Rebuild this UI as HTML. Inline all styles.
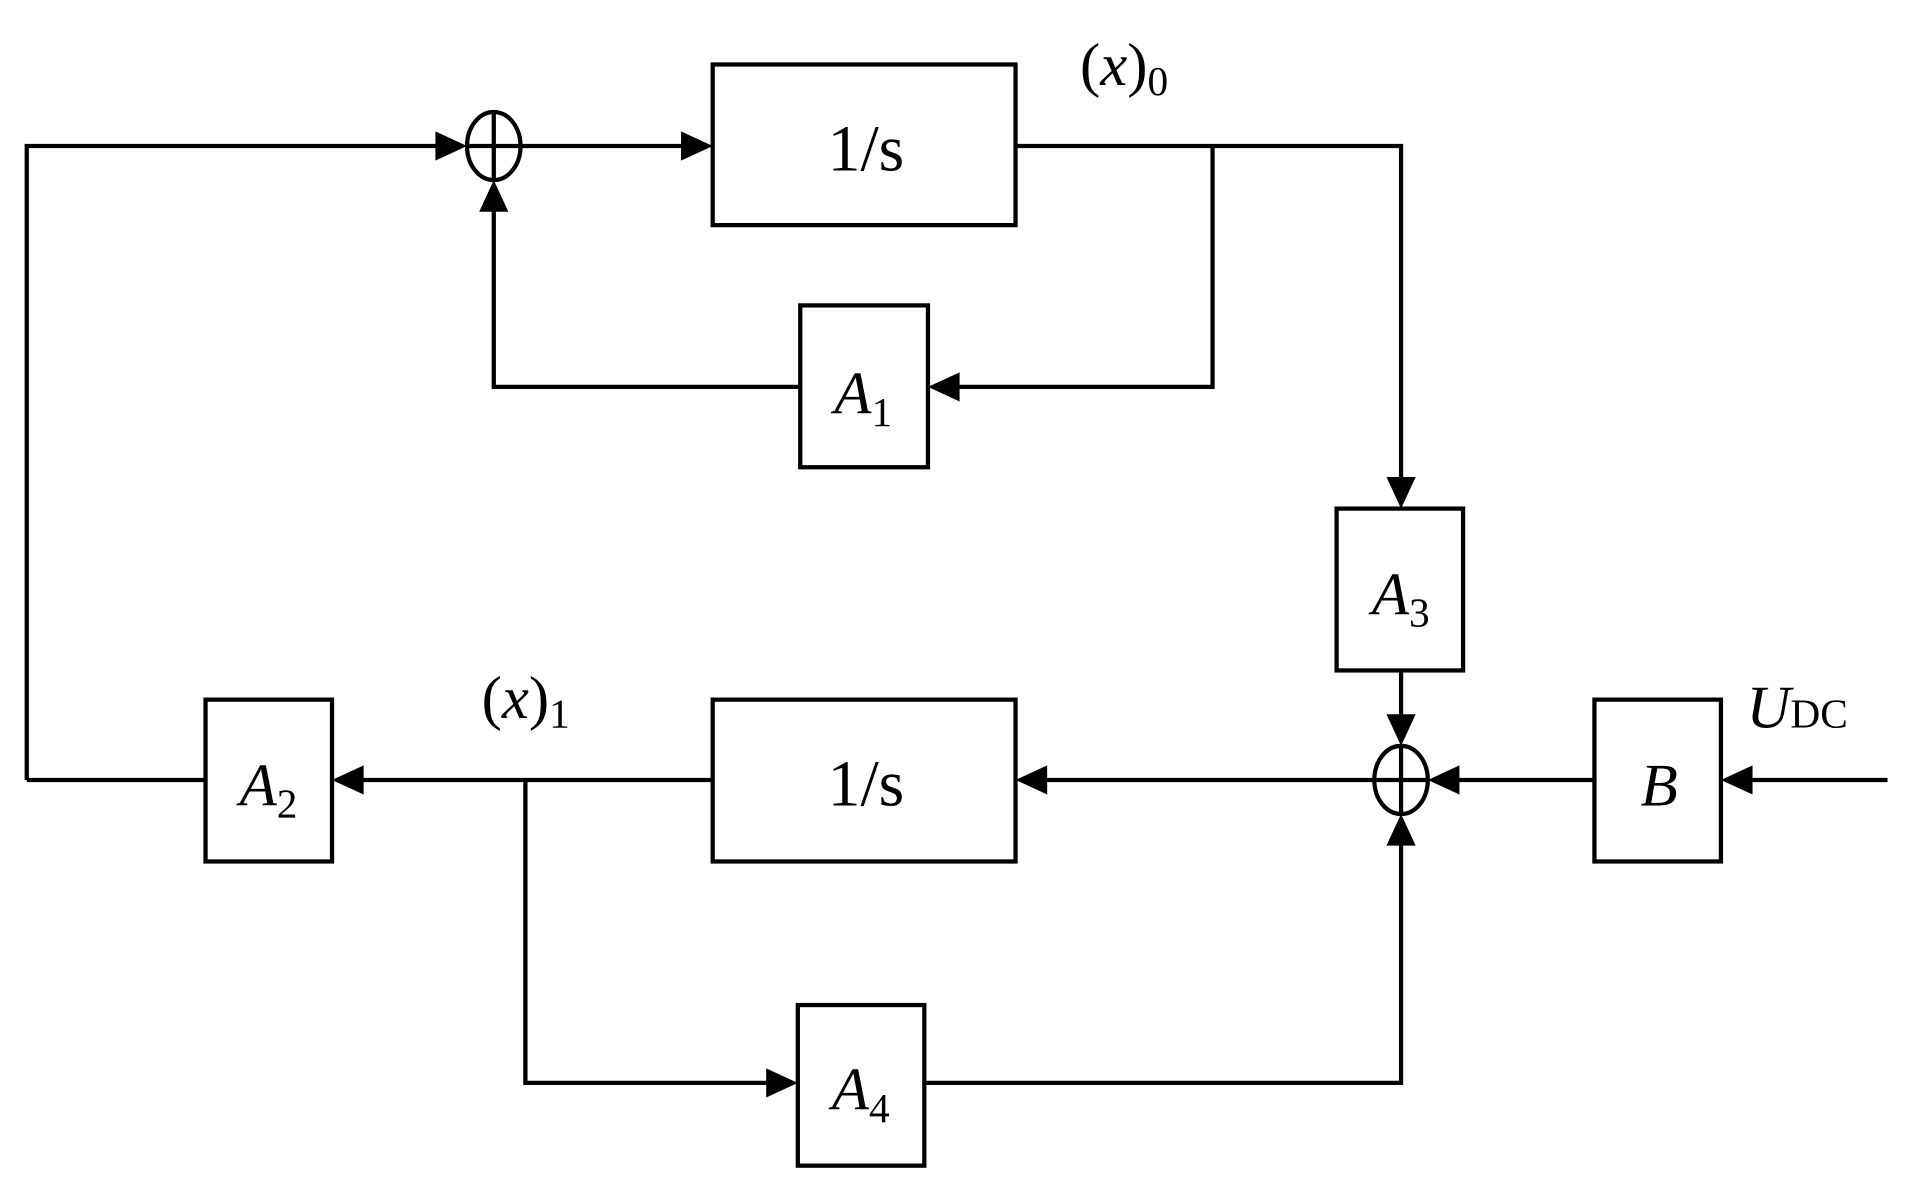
<!DOCTYPE html>
<html><head><meta charset="utf-8"><style>
html,body{margin:0;padding:0;background:#fff;}
svg{display:block;}
text{font-family:"Liberation Serif",serif;fill:#000;}
</style></head><body>
<svg width="1907" height="1190" viewBox="0 0 1568 978" preserveAspectRatio="none" xmlns="http://www.w3.org/2000/svg">
<g stroke="#000" stroke-width="3.5" fill="none">
<rect x="586" y="53" width="249" height="132"/>
<rect x="658" y="251" width="105" height="133"/>
<rect x="1099" y="418" width="104" height="133"/>
<rect x="169" y="575" width="104" height="133"/>
<rect x="586" y="575" width="249" height="133"/>
<rect x="656" y="826" width="104" height="132"/>
<rect x="1311" y="575" width="104" height="133"/>
<ellipse cx="406" cy="120" rx="22" ry="28"/>
<line x1="384" y1="120" x2="428" y2="120"/><line x1="406" y1="92" x2="406" y2="148"/>
<ellipse cx="1152" cy="641" rx="22" ry="28"/>
<line x1="1130" y1="641" x2="1174" y2="641"/><line x1="1152" y1="613" x2="1152" y2="669"/>
<polyline points="22,641 22,120 362,120"/>
<line x1="428" y1="120" x2="562" y2="120"/>
<polyline points="835,120 1152,120 1152,394"/>
<polyline points="997,120 997,318 787,318"/>
<polyline points="658,318 406,318 406,172"/>
<polyline points="22,641 169,641"/>
<line x1="1152" y1="551" x2="1152" y2="591"/>
<line x1="1130" y1="641" x2="859" y2="641"/>
<line x1="586" y1="641" x2="297" y2="641"/>
<polyline points="432,641 432,890 632,890"/>
<polyline points="760,890 1152,890 1152,693"/>
<line x1="1311" y1="641" x2="1198" y2="641"/>
<line x1="1552" y1="641" x2="1439" y2="641"/>
</g>
<g fill="#000">
<polygon points="384,120 358,108 358,132"/>
<polygon points="586,120 560,108 560,132"/>
<polygon points="1152,418 1140,392 1164,392"/>
<polygon points="763,318 789,306 789,330"/>
<polygon points="406,148 394,174 418,174"/>
<polygon points="1152,613 1140,587 1164,587"/>
<polygon points="835,641 861,629 861,653"/>
<polygon points="273,641 299,629 299,653"/>
<polygon points="656,890 630,878 630,902"/>
<polygon points="1152,669 1140,695 1164,695"/>
<polygon points="1174,641 1200,629 1200,653"/>
<polygon points="1415,641 1441,629 1441,653"/>
</g>
<text x="712" y="140" font-size="54" text-anchor="middle">1/s</text>
<text x="712" y="662" font-size="54" text-anchor="middle">1/s</text>
<g font-size="50">
<text x="686" y="340" font-style="italic">A<tspan font-style="normal" font-size="34" dy="10">1</tspan></text>
<text x="1128" y="505" font-style="italic">A<tspan font-style="normal" font-size="34" dy="10">3</tspan></text>
<text x="197" y="662" font-style="italic">A<tspan font-style="normal" font-size="34" dy="10">2</tspan></text>
<text x="684" y="912" font-style="italic">A<tspan font-style="normal" font-size="34" dy="10">4</tspan></text>
<text x="1349" y="662" font-style="italic">B</text>
<text x="888" y="70">(<tspan font-style="italic">x</tspan>)<tspan font-size="34" dy="8">0</tspan></text>
<text x="396" y="590">(<tspan font-style="italic">x</tspan>)<tspan font-size="34" dy="8">1</tspan></text>
<text x="1436" y="598" font-style="italic">U<tspan font-style="normal" font-size="34">DC</tspan></text>
</g>
</svg>
</body></html>
